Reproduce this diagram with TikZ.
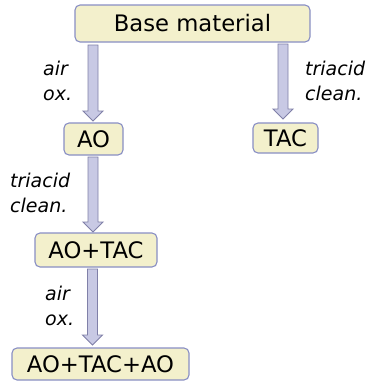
\documentclass[tikz,border=0pt]{standalone}
\usepackage{fontspec}
\setmainfont{DejaVu Sans}
\usetikzlibrary{calc}
\definecolor{boxfill}{RGB}{243,240,204}
\definecolor{boxdraw}{RGB}{136,142,196}
\definecolor{arrfill}{RGB}{200,201,228}
\definecolor{arrdraw}{RGB}{128,128,168}
\tikzset{
  stage/.style={draw=boxdraw, fill=boxfill, rounded corners=5pt, line width=1.1pt,
    inner sep=0pt, text height=16.5pt, text depth=0pt,
    font=\fontsize{22.7}{26}\selectfont},
  blockarr/.style={draw=arrdraw, fill=arrfill, line width=0.9pt, line join=miter},
  steplabel/.style={anchor=north west, inner sep=0pt, align=left,
    font=\fontsize{19}{25}\selectfont\itshape}
}
\newcommand\barrow[2]{%
  \path[blockarr] let \p1=(#1), \p2=(#2) in
    (\x1-5pt,\y1) -- (\x1+5pt,\y1) -- (\x1+5pt,\y2+10pt) -- (\x1+10pt,\y2+10pt)
    -- (\x1,\y2) -- (\x1-10pt,\y2+10pt) -- (\x1-5pt,\y2+10pt) -- cycle;}
\begin{document}
\begin{tikzpicture}[x=1pt,y=-1pt]
\useasboundingbox (0,0) rectangle (369,381);
\node[stage, minimum width=235pt, minimum height=37pt] (base) at (192.5,23.5) {Base material};
\node[stage, minimum width=59pt, minimum height=32pt] (ao) at (93.5,139) {AO};
\node[stage, minimum width=65pt, minimum height=30pt] (tac) at (285.5,138) {TAC};
\node[stage, minimum width=122pt, minimum height=34pt] (aotac) at (96,250) {AO+TAC};
\node[stage, minimum width=177pt, minimum height=32pt] (aotacao) at (100.5,364) {AO+TAC+AO};
% arrow end points
\coordinate (a1s) at (93,45);  \coordinate (a1e) at (93,121);
\coordinate (a2s) at (283,44); \coordinate (a2e) at (283,119);
\coordinate (a3s) at (93,157); \coordinate (a3e) at (93,232);
\coordinate (a4s) at (92.5,269); \coordinate (a4e) at (92.5,345);
\barrow{a1s}{a1e}
\barrow{a2s}{a2e}
\barrow{a3s}{a3e}
\barrow{a4s}{a4e}
\node[steplabel] (l1) at (43,61) {air\\ox.};
\node[steplabel] (l2) at (305,61) {triacid\\clean.};
\node[steplabel] (l3) at (10,173) {triacid\\clean.};
\node[steplabel] (l4) at (45,286) {air\\ox.};
\end{tikzpicture}
\end{document}
